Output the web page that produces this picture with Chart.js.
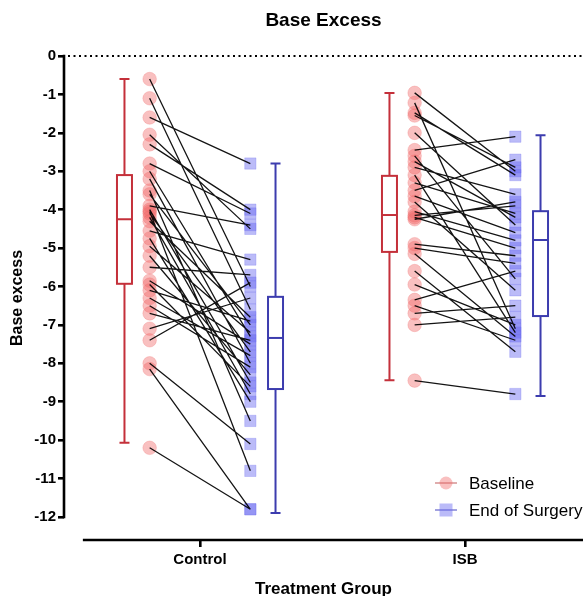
<!DOCTYPE html>
<html><head><meta charset="utf-8">
<script src="https://cdn.jsdelivr.net/npm/chart.js@4/dist/chart.umd.min.js"></script>
<style>html,body{margin:0;padding:0;background:#fff}#wrap{width:583px;height:596px}</style>
</head><body><div id="wrap"><canvas id="c" width="583" height="596"></canvas></div>
<script>
const groups = ['Control', 'ISB'];
const groupPos = [1, 2];
const yTicks = [0, -1, -2, -3, -4, -5, -6, -7, -8, -9, -10, -11, -12];

const controlBaseline = [-0.6, -1.1, -1.6, -2.05, -2.3, -2.8, -3.0, -3.2, -3.5, -3.6, -3.9, -4.0, -4.05, -4.1, -4.2, -4.3, -4.55, -4.75, -4.95, -5.2, -5.5, -5.85, -5.95, -6.1, -6.3, -6.5, -6.7, -7.1, -7.4, -8.0, -8.15, -10.2];
const controlEnd      = [-6.0, -6.6, -2.8, -4.5, -4.0, -4.1, -7.3, -8.0, -9.5, -7.0, -4.4, -8.5, -10.8, -7.7, -8.8, -6.8, -5.3, -9.0, -7.2, -8.3, -5.7, -7.5, -8.6, -6.9, -7.8, -8.1, -7.4, -6.3, -5.9, -10.1, -11.8, -11.8];

const isbBaseline = [-0.96, -1.22, -1.48, -1.55, -2.0, -2.45, -2.6, -2.75, -2.9, -3.1, -3.3, -3.5, -3.65, -3.8, -4.05, -4.15, -4.2, -4.25, -4.9, -5.0, -5.15, -5.6, -5.95, -6.35, -6.5, -6.7, -7.0, -8.45];
const isbEnd      = [-3.0, -7.1, -3.1, -2.9, -4.4, -2.1, -5.8, -4.2, -3.6, -7.2, -4.1, -2.7, -4.6, -6.1, -4.8, -3.9, -5.0, -3.8, -5.2, -5.4, -7.3, -7.7, -7.0, -5.6, -7.4, -6.5, -6.8, -8.8];

// box stats: [min, q1, median, q3, max]
const controlBaselineBox = [-10.07, -5.93, -4.25, -3.1, -0.6];
const controlEndBox      = [-11.9, -8.67, -7.34, -6.27, -2.8];
const isbBaselineBox     = [-8.44, -5.1, -4.14, -3.12, -0.96];
const isbEndBox          = [-8.85, -6.77, -4.79, -4.04, -2.06];

const PT_OFF = 0.19, BOX_OFF = 0.285;
const RED = '#c4303a', BLUE = '#3c3cae';
const PINK = 'rgba(240,105,105,0.42)', LAV = 'rgba(105,105,240,0.45)';
const FAM = '"Liberation Sans", Arial, sans-serif';

function pairLine(base, end, gx) {
  const d = [];
  base.forEach((b, i) => { d.push({x: gx - PT_OFF, y: b}); d.push({x: gx + PT_OFF, y: end[i]}); d.push({x: gx, y: null}); });
  return d;
}
const pts = (arr, x) => arr.map(v => ({x, y: v}));

const boxes = [
  {x: groupPos[0] - BOX_OFF, s: controlBaselineBox, c: RED},
  {x: groupPos[0] + BOX_OFF, s: controlEndBox, c: BLUE},
  {x: groupPos[1] - BOX_OFF, s: isbBaselineBox, c: RED},
  {x: groupPos[1] + BOX_OFF, s: isbEndBox, c: BLUE},
];

const extras = {
  id: 'extras',
  beforeDatasetsDraw(chart) {
    const {ctx, scales: {x, y}, chartArea: ca} = chart;
    ctx.save();
    ctx.strokeStyle = '#000'; ctx.lineWidth = 2; ctx.setLineDash([2, 3.5]);
    ctx.beginPath(); ctx.moveTo(ca.left + 4, y.getPixelForValue(0)); ctx.lineTo(ca.right, y.getPixelForValue(0)); ctx.stroke();
    ctx.setLineDash([]);
    const hw = 7.5, cw = 5;
    boxes.forEach(b => {
      const px = x.getPixelForValue(b.x);
      const [mn, q1, md, q3, mx] = b.s.map(v => y.getPixelForValue(v));
      ctx.strokeStyle = b.c; ctx.lineWidth = 2;
      ctx.beginPath();
      ctx.moveTo(px, mx); ctx.lineTo(px, q3);
      ctx.moveTo(px, q1); ctx.lineTo(px, mn);
      ctx.moveTo(px - cw, mx); ctx.lineTo(px + cw, mx);
      ctx.moveTo(px - cw, mn); ctx.lineTo(px + cw, mn);
      ctx.stroke();
      ctx.strokeRect(px - hw, q3, 2 * hw, q1 - q3);
      ctx.beginPath(); ctx.moveTo(px - hw, md); ctx.lineTo(px + hw, md); ctx.stroke();
    });
    ctx.restore();
  },
  afterDraw(chart) {
    const {ctx, scales: {x, y}, chartArea: ca} = chart;
    ctx.save();
    ctx.strokeStyle = '#000'; ctx.lineWidth = 2.6;
    ctx.beginPath(); ctx.moveTo(ca.left, y.getPixelForValue(0) - 1.3); ctx.lineTo(ca.left, y.getPixelForValue(-12) + 1.3); ctx.stroke();
    ctx.beginPath(); ctx.moveTo(x.getPixelForValue(0.558), ca.bottom); ctx.lineTo(ca.right, ca.bottom); ctx.stroke();
    const items = [
      {t: 'Baseline', c: PINK, lc: '#d08080', shape: 'circle'},
      {t: 'End of Surgery', c: LAV, lc: '#7070d0', shape: 'rect'},
    ];
    ctx.font = '17px ' + FAM;
    ctx.textBaseline = 'middle'; ctx.textAlign = 'left';
    items.forEach((it, i) => {
      const ly = 483 + i * 27, lx = 435;
      ctx.strokeStyle = it.lc; ctx.lineWidth = 1.3;
      ctx.beginPath(); ctx.moveTo(lx, ly); ctx.lineTo(lx + 22, ly); ctx.stroke();
      ctx.fillStyle = it.c;
      if (it.shape === 'circle') { ctx.beginPath(); ctx.arc(lx + 11, ly, 6.5, 0, Math.PI * 2); ctx.fill(); }
      else ctx.fillRect(lx + 4.5, ly - 6.5, 13, 13);
      ctx.fillStyle = '#000';
      ctx.fillText(it.t, 469, ly + 1);
    });
    ctx.restore();
  }
};

const xTickFont = {family: FAM, size: 15, weight: 'bold'};
const yTickFont = {family: FAM, size: 15, weight: 'bold'};

new Chart(document.getElementById('c'), {
  type: 'line',
  data: {
    datasets: [
      {data: pairLine(controlBaseline, controlEnd, groupPos[0]), borderColor: 'rgba(0,0,0,0.92)', borderWidth: 1.3, pointRadius: 0, spanGaps: false, order: 0},
      {data: pairLine(isbBaseline, isbEnd, groupPos[1]), borderColor: 'rgba(0,0,0,0.92)', borderWidth: 1.3, pointRadius: 0, spanGaps: false, order: 0},
      {data: pts(controlBaseline, groupPos[0] - PT_OFF), showLine: false, pointStyle: 'circle', pointRadius: 6.8, backgroundColor: PINK, borderColor: 'rgba(240,105,105,0.25)', borderWidth: 1, order: 1},
      {data: pts(isbBaseline, groupPos[1] - PT_OFF), showLine: false, pointStyle: 'circle', pointRadius: 6.8, backgroundColor: PINK, borderColor: 'rgba(240,105,105,0.25)', borderWidth: 1, order: 1},
      {data: pts(controlEnd, groupPos[0] + PT_OFF), showLine: false, pointStyle: 'rect', pointRadius: 8, backgroundColor: LAV, borderColor: 'rgba(105,105,240,0.25)', borderWidth: 1, order: 1},
      {data: pts(isbEnd, groupPos[1] + PT_OFF), showLine: false, pointStyle: 'rect', pointRadius: 8, backgroundColor: LAV, borderColor: 'rgba(105,105,240,0.25)', borderWidth: 1, order: 1},
    ]
  },
  options: {
    responsive: false, animation: false, devicePixelRatio: 1,
    layout: {autoPadding: false, padding: {left: 0, right: 0, top: 0, bottom: 0}},
    plugins: {
      legend: {display: false}, tooltip: {enabled: false},
      title: {display: true, fullSize: false, text: 'Base Excess', color: '#000',
        font: {family: FAM, size: 19, weight: 'bold'}, padding: {top: 9, bottom: 24.2}}
    },
    scales: {
      x: {
        type: 'linear', min: 0.4868, max: 2.4453,
        afterBuildTicks: s => { s.ticks = groupPos.map(v => ({value: v})); },
        afterFit: s => { s.height = 56; },
        grid: {display: true, drawOnChartArea: false, drawTicks: true, tickLength: 7, lineWidth: 2.6, color: '#000'},
        border: {display: false},
        ticks: {callback: v => groups[groupPos.indexOf(v)], font: xTickFont, color: '#000', padding: 4, autoSkip: false, maxRotation: 0},
        title: {display: true, text: 'Treatment Group', font: {family: FAM, size: 17, weight: 'bold'}, color: '#000', padding: {top: 4, bottom: -4}}
      },
      y: {
        type: 'linear', min: -12.6, max: 0,
        afterBuildTicks: s => { s.ticks = yTicks.map(v => ({value: v})); },
        afterFit: s => { s.width = 64; },
        grid: {display: true, drawOnChartArea: false, drawTicks: true, tickLength: 6, lineWidth: 2.6, color: '#000'},
        border: {display: false},
        ticks: {font: yTickFont, color: '#000', padding: 2, autoSkip: false},
        title: {display: true, text: 'Base excess', font: {family: FAM, size: 16, weight: 'bold'}, color: '#000', padding: {top: 8, bottom: 0}}
      }
    }
  },
  plugins: [extras]
});
</script></body></html>
